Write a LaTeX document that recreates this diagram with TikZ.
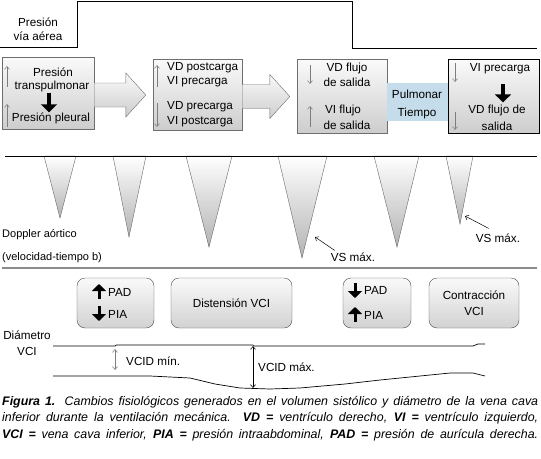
\documentclass[tikz,border=0pt]{standalone}
\usepackage{fontspec}
\setmainfont{Liberation Sans}
\usetikzlibrary{calc,arrows.meta}
\definecolor{boxline}{RGB}{110,110,110}
\definecolor{boxtop}{RGB}{250,250,250}
\definecolor{boxbot}{RGB}{205,205,205}
\definecolor{pulmblue}{RGB}{197,220,234}
\definecolor{arrgray}{RGB}{125,125,125}

% flecha gruesa entre dos cajas
\newcommand{\blockarrow}[2]{%
  \coordinate (s) at ($(#1.east)+(0,2)$);
  \coordinate (t) at ($(#2.west |- s)+(-7,0)$);
  \draw[draw=boxline, top color=boxtop, bottom color=boxbot]
    ($(s)+(0,-12)$) -- ($(t)+(-20,-12)$) -- ($(t)+(-20,-22)$) -- (t)
    -- ($(t)+(-20,22)$) -- ($(t)+(-20,12)$) -- ($(s)+(0,12)$) -- cycle;
}

\begin{document}
\begin{tikzpicture}[x=1pt, y=-1pt,
    font=\fontsize{11.7}{13}\selectfont,
    every node/.style={inner sep=0pt},
    grbox/.style={draw=boxline, top color=boxtop, bottom color=boxbot},
    rbox/.style={draw=black!70, top color=boxtop, bottom color=boxbot!90,
                 rounded corners=8pt, minimum height=50pt},
    thinarr/.style={draw=arrgray, line width=0.5pt, -{Straight Barb[length=3pt,width=5pt]}},
    boldarr/.style={line width=3.5pt, -{Triangle[length=8pt,width=16pt]}},
    tri/.style={draw=black!60, top color=white, bottom color=black!30},
    vsarr/.style={line width=0.5pt, -{Straight Barb[length=3pt,width=5pt]}},
    dimarr/.style={line width=0.6pt, {Straight Barb[length=3pt,width=5pt]}-{Straight Barb[length=3pt,width=5pt]}}
  ]
  \useasboundingbox (0,0) rectangle (541,458);

  % presion via aerea
  \draw[line width=0.8pt] (0,47) -- (77,47) -- (77,1) -- (352,1) -- (352,48) -- (537,48);
  \node (via1) at (38,22) {Presión};
  \node (via2) at (38,36) {vía aérea};

  % cajas de arriba
  \node[grbox, minimum width=92pt, minimum height=72pt] (tpbox) at (48,93) {};
  \node[grbox, minimum width=89pt, minimum height=71pt] (vdbox) at (197.5,94.5) {};
  \node[grbox, minimum width=90pt, minimum height=74pt] (flbox) at (342,96) {};
  \node[fill=pulmblue, minimum width=61pt, minimum height=38pt] (pulm) at (417.5,102) {};
  \node[grbox, draw=black, line width=0.8pt, minimum width=91pt, minimum height=74pt] (vibox) at (493.5,96) {};

  \blockarrow{tpbox}{vdbox}
  \blockarrow{vdbox}{flbox}

  % caja 1
  \node (tp1) at (53,72) {Presión};
  \node (tp2) at (52,86) {transpulmonar};
  \node (pl) at (51,118) {Presión pleural};
  \draw[thinarr] (7,87) -- (7,66);
  \draw[thinarr] (7,127) -- (7,104);
  \draw[boldarr, shorten <=1pt] (tp2.south -| 49,0) -- (pl.north -| 49,0);

  % caja 2
  \node[anchor=west] (vd1) at (167,68) {VD postcarga};
  \node[anchor=west] (vi1) at (167,82) {VI precarga};
  \node[anchor=west] (vd2) at (167,107) {VD precarga};
  \node[anchor=west] (vi2) at (167,122) {VI postcarga};
  \draw[thinarr] (157,87) -- (157,65);
  \draw[thinarr] (157,103) -- (157,127);

  % caja 3
  \node (fl1) at (347,68) {VD flujo};
  \node (fl2) at (347,82) {de salida};
  \node (fl3) at (343,110) {VI flujo};
  \node (fl4) at (347,125) {de salida};
  \draw[thinarr] (310,65) -- (310,84);
  \draw[thinarr] (310,127) -- (310,106);

  \node (pulm1) at (417,94) {Pulmonar};
  \node (pulm2) at (417,113) {Tiempo};

  % caja 4
  \node (vip) at (500,69) {VI precarga};
  \node (vdf1) at (497,110) {VD flujo de};
  \node (vdf2) at (497,126) {salida};
  \draw[thinarr] (455,63) -- (455,82);
  \draw[thinarr] (455,112) -- (455,130);
  \draw[boldarr, shorten <=10pt, shorten >=2pt] (vip.south -| 503,0) -- (vdf1.north -| 503,0);

  % doppler aortico
  \foreach \l/\r/\tx/\ty in {44/76/60/218, 113/146/129/237, 186/232/209/247,
                             278/327/302/258, 374/419/397/247, 446/473/460/224}
    \draw[tri] (\l,156) -- (\tx,\ty) -- (\r,156) -- cycle;
  \draw[line width=0.7pt] (5,156) -- (537,156);

  \node[anchor=west, font=\fontsize{11}{13}\selectfont] (dop1) at (2,235) {Doppler aórtico};
  \node[anchor=west, font=\fontsize{11}{13}\selectfont] (dop2) at (2,258) {(velocidad-tiempo b)};

  \node (vs1) at (353,257) {VS máx.};
  \node (vs2) at (498,238) {VS máx.};
  \coordinate (tip1) at (315,237);
  \coordinate (tip2) at (465,216);
  \draw[vsarr] ($(vs1.north west)+(4,-2)$) -- (tip1);
  \draw[vsarr] ($(vs2.north west)+(13,-5)$) -- (tip2);

  \draw[draw=black!45, line width=1.2pt] (2,268) -- (537,268);

  % cajas de abajo
  \node[rbox, minimum width=77pt] (pbox1) at (115.5,303) {};
  \node[rbox, minimum width=121pt] (dist) at (231.5,303) {Distensión VCI};
  \node[rbox, minimum width=68pt] (pbox2) at (377,303) {};
  \node[rbox, minimum width=90pt, align=center] (contr) at (474,303) {Contracción\\[3pt]VCI};

  \node[anchor=west] (pad1) at (108,292) {PAD};
  \node[anchor=west] (pia1) at (108,314) {PIA};
  \draw[boldarr, line width=3pt, -{Triangle[length=7pt,width=14pt]}] (99,299) -- (99,284);
  \draw[boldarr, line width=3pt, -{Triangle[length=7pt,width=14pt]}] (99,306) -- (99,321);

  \node[anchor=west] (pad2) at (364,290) {PAD};
  \node[anchor=west] (pia2) at (364,315) {PIA};
  \draw[boldarr, line width=3pt, -{Triangle[length=7pt,width=14pt]}] (355,283) -- (355,298);
  \draw[boldarr, line width=3pt, -{Triangle[length=7pt,width=14pt]}] (355,322) -- (355,307);

  % diametro VCI
  \node (dia1) at (27,335) {Diámetro};
  \node (dia2) at (27,351) {VCI};
  \draw[line width=0.7pt] (53,346) -- (115,346) -- (116,345) -- (253,345) -- (254,346)
    -- (473,346) -- (478,344) -- (485,344);
  \draw[line width=0.7pt] (53,376) -- (150,376) -- (190,378) -- (215,384) -- (240,388)
    -- (270,389) -- (300,388) -- (345,384) -- (380,380) -- (420,376) -- (450,373)
    -- (473,373) -- (485,376);

  \coordinate (mina) at (115,349);
  \coordinate (minb) at (115,370);
  \coordinate (maxa) at (253,346);
  \coordinate (maxb) at (253,388);
  \draw[dimarr, draw=arrgray] (mina) -- (minb);
  \draw[dimarr] (maxa) -- (maxb);
  \node[anchor=west] (vmin) at (126,361) {VCID mín.};
  \node[anchor=west] (vmax) at (258,367) {VCID máx.};

  % pie de figura
  \node[anchor=north west, text width=536pt, align=justify,
        font=\fontsize{12.4}{16.5}\selectfont\itshape] (cap) at (2,396)
    {\textbf{Figura 1.} Cambios fisiológicos generados en el volumen sistólico y diámetro de la vena cava\linebreak
     inferior durante la ventilación mecánica. \textbf{VD =} ventrículo derecho, \textbf{VI =} ventrículo izquierdo,\linebreak
     \textbf{VCI =} vena cava inferior, \textbf{PIA =} presión intraabdominal, \textbf{PAD =} presión de aurícula derecha.\parfillskip=0pt\par};
\end{tikzpicture}
\end{document}
